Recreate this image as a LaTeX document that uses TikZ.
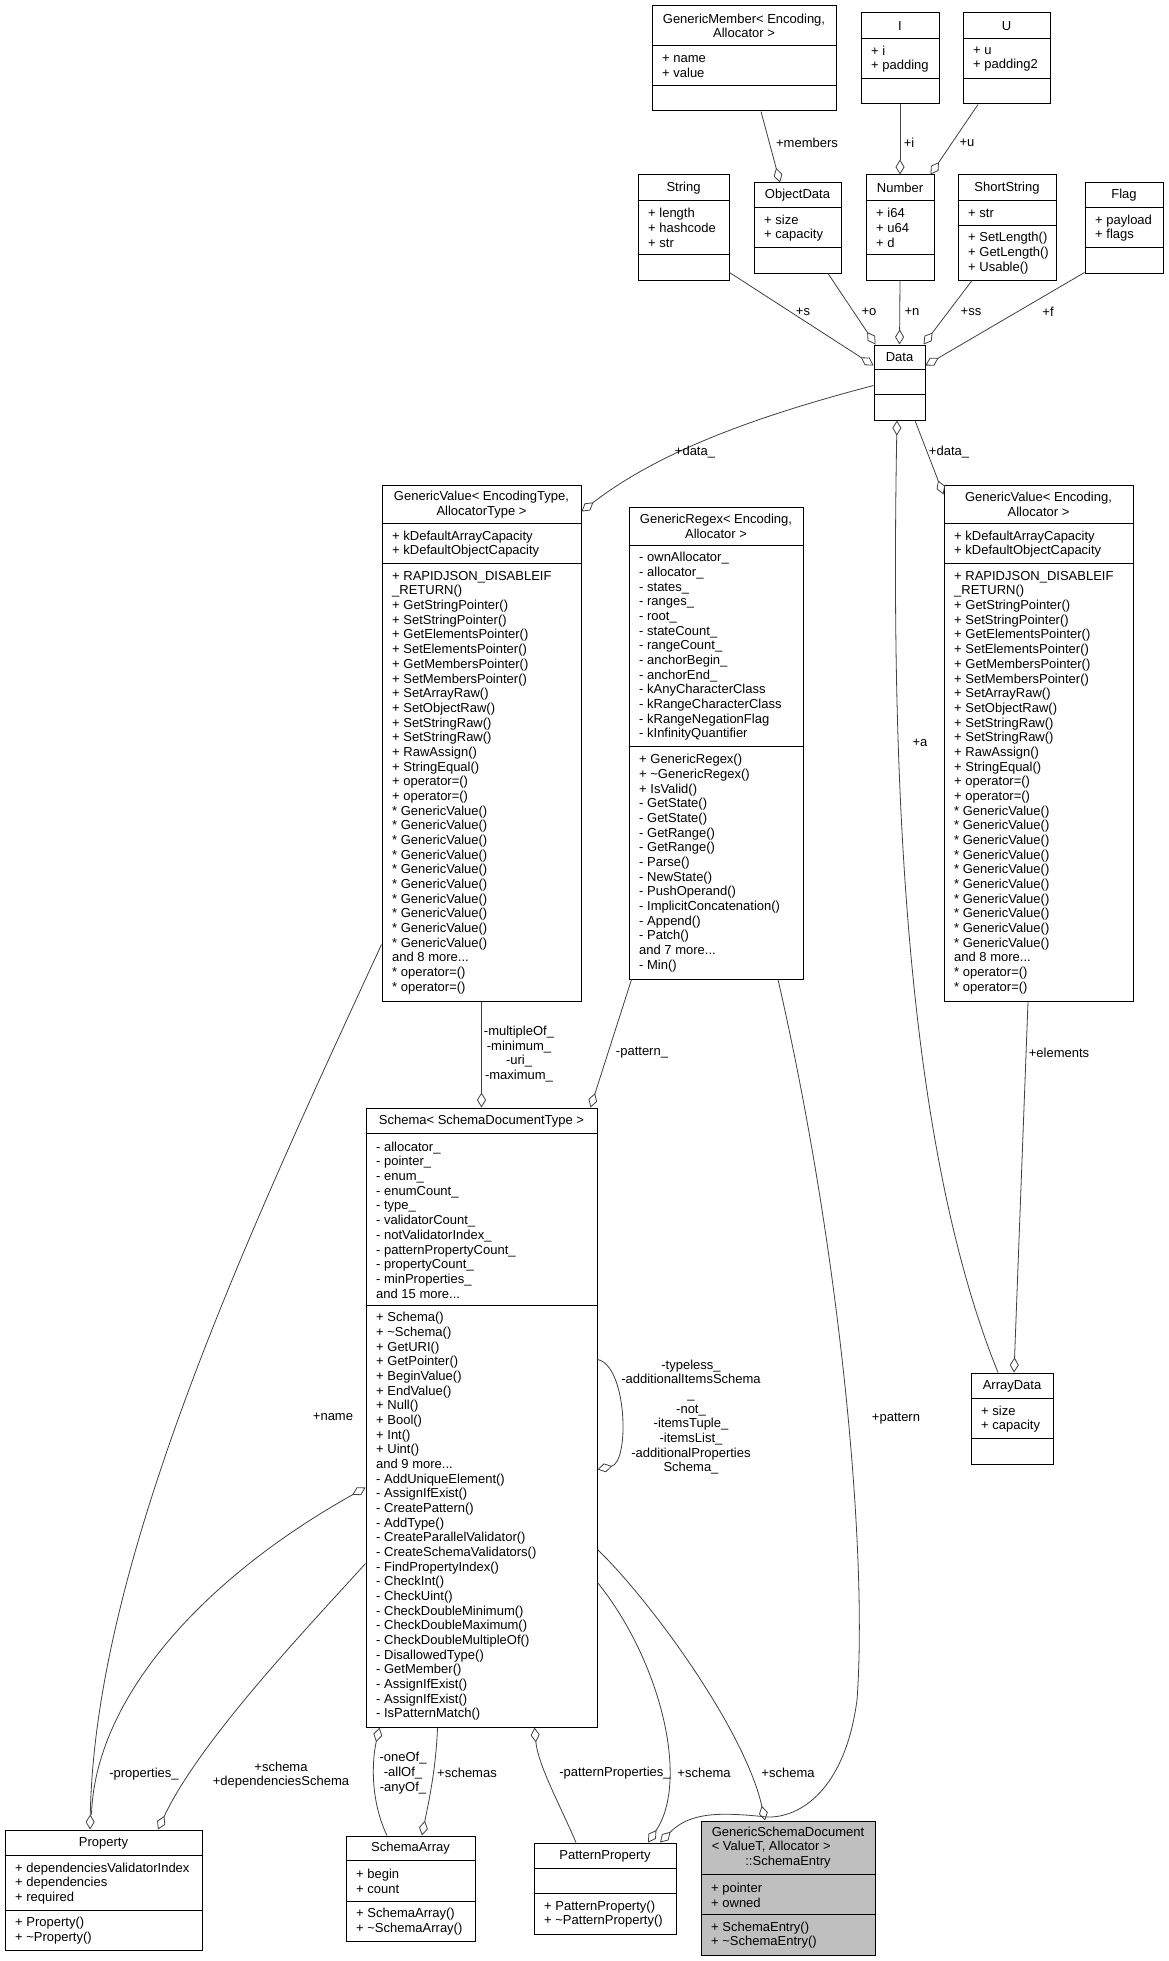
\documentclass[tikz,border=0pt]{standalone}
\usepackage{fontspec}
\setmainfont{Liberation Sans}
\usetikzlibrary{arrows.meta}
\usetikzlibrary{calc}

\definecolor{edgegray}{RGB}{64,64,64}
\definecolor{gsdgray}{RGB}{191,191,191}
\newcommand{\umlfont}{\fontsize{13}{14.67}\selectfont}

\tikzset{
  cls/.style={draw=black, line width=1pt, inner sep=0pt},
  sepline/.style={draw=black, line width=1pt},
  ttl/.style={inner sep=0pt, align=center, font=\umlfont},
  memb/.style={inner sep=0pt, anchor=west, align=left, font=\umlfont},
  lbl/.style={inner sep=0pt, align=center, font=\umlfont},
  agg/.style={draw=edgegray, line width=0.8pt,
    -{Diamond[open, length=15pt, width=9pt, line width=0.8pt]}},
  link/.style={draw=edgegray, line width=0.8pt},
}

% box: [options] name, x1, x2, y1, sep1, sep2, y2
\newcommand{\umlclass}[8][]{%
  \node[cls, #1, minimum width={#4-#3}, minimum height={#8-#5}] (#2) at ({(#3+#4)/2},{(#5+#8)/2}) {};
  \draw[sepline] ($(#2.north west)+(0,#6-#5)$) -- ($(#2.north east)+(0,#6-#5)$);
  \draw[sepline] ($(#2.north west)+(0,#7-#5)$) -- ($(#2.north east)+(0,#7-#5)$);
  \coordinate (#2-t) at ({(#3+#4)/2},{(#5+#6)/2});
  \coordinate (#2-a) at ({#3+10},{(#6+#7)/2});
  \coordinate (#2-m) at ({#3+10},{(#7+#8)/2});
}
% texts: name, title, attributes, methods
\newcommand{\umltext}[4]{%
  \node[ttl] (#1-title) at (#1-t) {#2};
  \node[memb] (#1-attr) at (#1-a) {#3};
  \node[memb] (#1-meth) at (#1-m) {#4};
}

\begin{document}
\begin{tikzpicture}[x=1pt, y=-1pt]
      \fill[white] (0,0) rectangle (1169,1961);
      \useasboundingbox (0,0) rectangle (1169,1961);

      % top row
      \umlclass{gm}{652}{836}{6}{46}{86}{111}
      \umltext{gm}{GenericMember< Encoding,\\ Allocator >}{+ name\\+ value}{}
      \umlclass{ibox}{861}{939}{13}{39}{79}{104}
      \umltext{ibox}{I}{+ i\\+ padding}{}
      \umlclass{ubox}{963}{1050}{13}{39}{79}{104}
      \umltext{ubox}{U}{+ u\\+ padding2}{}

      \umlclass{string}{638}{729}{175}{201}{255}{280}
      \umltext{string}{String}{+ length\\+ hashcode\\+ str}{}
      \umlclass{objdata}{754}{841}{183}{208}{248}{273}
      \umltext{objdata}{ObjectData}{+ size\\+ capacity}{}
      \umlclass{number}{866}{934}{175}{201}{255}{280}
      \umltext{number}{Number}{+ i64\\+ u64\\+ d}{}
      \umlclass{shortstr}{958}{1056}{175}{201}{226}{280}
      \umltext{shortstr}{ShortString}{+ str}{+ SetLength()\\+ GetLength()\\+ Usable()}
      \umlclass{flag}{1085}{1163}{183}{208}{248}{273}
      \umltext{flag}{Flag}{+ payload\\+ flags}{}

      \umlclass{data}{874}{925}{345}{370}{395}{420}
      \umltext{data}{Data}{}{}

      % values and regex
      \umlclass{gv1}{382}{581}{485}{524}{564}{1001}
      \umltext{gv1}{GenericValue< EncodingType,\\ AllocatorType >}{+ kDefaultArrayCapacity\\+ kDefaultObjectCapacity}{+ RAPIDJSON\_DISABLEIF\\\_RETURN()\\+ GetStringPointer()\\+ SetStringPointer()\\+ GetElementsPointer()\\+ SetElementsPointer()\\+ GetMembersPointer()\\+ SetMembersPointer()\\+ SetArrayRaw()\\+ SetObjectRaw()\\+ SetStringRaw()\\+ SetStringRaw()\\+ RawAssign()\\+ StringEqual()\\+ operator=()\\+ operator=()\\* GenericValue()\\* GenericValue()\\* GenericValue()\\* GenericValue()\\* GenericValue()\\* GenericValue()\\* GenericValue()\\* GenericValue()\\* GenericValue()\\* GenericValue()\\and 8 more...\\* operator=()\\* operator=()}

      \umlclass{regex}{629}{803}{507}{546}{747}{979}
      \umltext{regex}{GenericRegex< Encoding,\\ Allocator >}{- ownAllocator\_\\- allocator\_\\- states\_\\- ranges\_\\- root\_\\- stateCount\_\\- rangeCount\_\\- anchorBegin\_\\- anchorEnd\_\\- kAnyCharacterClass\\- kRangeCharacterClass\\- kRangeNegationFlag\\- kInfinityQuantifier}{+ GenericRegex()\\+ \textasciitilde GenericRegex()\\+ IsValid()\\- GetState()\\- GetState()\\- GetRange()\\- GetRange()\\- Parse()\\- NewState()\\- PushOperand()\\- ImplicitConcatenation()\\- Append()\\- Patch()\\and 7 more...\\- Min()}

      \umlclass{gv2}{944}{1133}{485}{524}{564}{1001}
      \umltext{gv2}{GenericValue< Encoding,\\ Allocator >}{+ kDefaultArrayCapacity\\+ kDefaultObjectCapacity}{+ RAPIDJSON\_DISABLEIF\\\_RETURN()\\+ GetStringPointer()\\+ SetStringPointer()\\+ GetElementsPointer()\\+ SetElementsPointer()\\+ GetMembersPointer()\\+ SetMembersPointer()\\+ SetArrayRaw()\\+ SetObjectRaw()\\+ SetStringRaw()\\+ SetStringRaw()\\+ RawAssign()\\+ StringEqual()\\+ operator=()\\+ operator=()\\* GenericValue()\\* GenericValue()\\* GenericValue()\\* GenericValue()\\* GenericValue()\\* GenericValue()\\* GenericValue()\\* GenericValue()\\* GenericValue()\\* GenericValue()\\and 8 more...\\* operator=()\\* operator=()}

      \umlclass{arraydata}{971}{1053}{1373}{1399}{1439}{1464}
      \umltext{arraydata}{ArrayData}{+ size\\+ capacity}{}

      % schema
      \umlclass{schema}{366}{597}{1108}{1134}{1306}{1727}
      \umltext{schema}{Schema< SchemaDocumentType >}{- allocator\_\\- pointer\_\\- enum\_\\- enumCount\_\\- type\_\\- validatorCount\_\\- notValidatorIndex\_\\- patternPropertyCount\_\\- propertyCount\_\\- minProperties\_\\and 15 more...}{+ Schema()\\+ \textasciitilde Schema()\\+ GetURI()\\+ GetPointer()\\+ BeginValue()\\+ EndValue()\\+ Null()\\+ Bool()\\+ Int()\\+ Uint()\\and 9 more...\\- AddUniqueElement()\\- AssignIfExist()\\- CreatePattern()\\- AddType()\\- CreateParallelValidator()\\- CreateSchemaValidators()\\- FindPropertyIndex()\\- CheckInt()\\- CheckUint()\\- CheckDoubleMinimum()\\- CheckDoubleMaximum()\\- CheckDoubleMultipleOf()\\- DisallowedType()\\- GetMember()\\- AssignIfExist()\\- AssignIfExist()\\- IsPatternMatch()}

      % bottom row
      \umlclass{property}{5}{202}{1830}{1856}{1911}{1950}
      \umltext{property}{Property}{+ dependenciesValidatorIndex\\+ dependencies\\+ required}{+ Property()\\+ \textasciitilde Property()}
      \umlclass{schemaarr}{346}{475}{1836}{1861}{1902}{1941}
      \umltext{schemaarr}{SchemaArray}{+ begin\\+ count}{+ SchemaArray()\\+ \textasciitilde SchemaArray()}
      \umlclass{patprop}{534}{676}{1843}{1869}{1894}{1934}
      \umltext{patprop}{PatternProperty}{}{+ PatternProperty()\\+ \textasciitilde PatternProperty()}
      \umlclass[fill=gsdgray]{gsd}{701}{875}{1821}{1875}{1915}{1955}
      \umltext{gsd}{\begin{tabular}{@{}l@{}}GenericSchemaDocument\\< ValueT, Allocator >\\\multicolumn{1}{@{}c@{}}{::SchemaEntry}\end{tabular}}{+ pointer\\+ owned}{+ SchemaEntry()\\+ \textasciitilde SchemaEntry()}

      % connectors round Data
      \draw[agg] ($(gm.south)+(17,0)$) -- ($(objdata.north)+(-17.5,0)$);
      \draw[agg] (ibox.south) -- (number.north);
      \draw[agg] ($(ubox.south)+(-28.5,0)$) -- ($(number.north east)+(-4,0)$);
      \draw[agg] ($(string.south east)+(0,-8)$) -- ($(data.north west)+(0,21)$);
      \draw[agg] ($(objdata.south)+(30.5,0)$) -- ($(data.north west)+(2,0)$);
      \draw[agg] (number.south) -- (data.north);
      \draw[agg] ($(shortstr.south)+(-35,0)$) -- ($(data.north east)+(-2,0)$);
      \draw[agg] ($(flag.south west)+(0,-1)$) -- ($(data.north east)+(0,21)$);
      \draw[agg] ($(data.north west)+(0,41)$) .. controls (761,415) and (661,450) .. ($(gv1.north east)+(0,27)$);
      \draw[agg] ($(data.south)+(15.5,0)$) -- ($(gv2.north west)+(0,10)$);
      \draw[agg] ($(arraydata.north)+(-14,0)$) .. controls (908,1150) and (890,800) .. ($(data.south)+(-2.5,0)$);
      \draw[agg] ($(gv2.south)+(-10.5,0)$) -- ($(arraydata.north)+(2,0)$);

      % connectors round Schema
      \draw[agg] (gv1.south) -- (schema.north);
      \draw[agg] ($(regex.south west)+(3,0)$) -- ($(schema.north east)+(-7,0)$);
      \draw[agg] ($(regex.south)+(62,0)$) .. controls (840,1250) and (868,1550) .. (857,1700)
        .. controls (845,1790) and (800,1818) .. (767,1817)
        .. controls (720,1812) and (690,1812) .. ($(patprop.north)+(55,0)$);
      \draw[agg] ($(schema.north east)+(0,252)$) .. controls (627,1365) and (630,1462) .. ($(schema.north east)+(0,362)$);
      \draw[agg] ($(schemaarr.north)+(-23.5,0)$) .. controls (370,1800) and (372,1760) .. ($(schema.south west)+(14,0)$);
      \draw[agg] ($(schema.south west)+(72,0)$) .. controls (436,1770) and (428,1805) .. ($(schemaarr.north)+(11.5,0)$);
      \draw[agg] ($(patprop.north)+(-29,0)$) .. controls (560,1805) and (538,1765) .. ($(schema.south west)+(169,0)$);
      \draw[agg] ($(schema.north east)+(0,475)$) .. controls (660,1660) and (690,1780) .. ($(patprop.north)+(43,0)$);
      \draw[agg] ($(schema.north east)+(0,442)$) .. controls (650,1600) and (745,1730) .. ($(gsd.north)+(-23,0)$);
      \draw[agg] ($(property.north)+(-12,-15)$) .. controls (95,1700) and (200,1580) .. ($(schema.north west)+(0,380)$);
      \draw[agg] ($(gv1.north west)+(0,460)$) .. controls (250,1230) and (95,1560) .. ($(property.north)+(-13.5,0)$);
      \draw[agg] ($(schema.north west)+(0,456)$) .. controls (310,1625) and (200,1740) .. ($(property.north)+(54.5,0)$);

      % connector labels
      \node[lbl] (l-members) at (807,143) {+members};
      \node[lbl] (l-i) at (909,143) {+i};
      \node[lbl] (l-u) at (967,143) {+u};
      \node[lbl] (l-s) at (803,312) {+s};
      \node[lbl] (l-o) at (869,312) {+o};
      \node[lbl] (l-n) at (912,312) {+n};
      \node[lbl] (l-ss) at (971,312) {+ss};
      \node[lbl] (l-f) at (1048,312) {+f};
      \node[lbl] (l-data1) at (695,452) {+data\_};
      \node[lbl] (l-data2) at (949,452) {+data\_};
      \node[lbl] (l-a) at (920,743) {+a};
      \node[lbl] (l-elements) at (1059,1053) {+elements};
      \node[lbl] (l-numbers) at (519,1054) {-multipleOf\_\\-minimum\_\\-uri\_\\-maximum\_};
      \node[lbl] (l-pattern1) at (642,1053) {-pattern\_};
      \node[lbl] (l-pattern2) at (896,1419) {+pattern};
      \node[lbl] (l-self) at (691,1417) {-typeless\_\\-additionalItemsSchema\\\_\\-not\_\\-itemsTuple\_\\-itemsList\_\\-additionalProperties\\Schema\_};
      \node[lbl] (l-name) at (333,1417) {+name};
      \node[lbl] (l-props) at (144,1774) {-properties\_};
      \node[lbl] (l-depschema) at (281,1775) {+schema\\+dependenciesSchema};
      \node[lbl] (l-oneof) at (403,1773) {-oneOf\_\\-allOf\_\\-anyOf\_};
      \node[lbl] (l-schemas) at (467,1773) {+schemas};
      \node[lbl] (l-patprops) at (615,1773) {-patternProperties\_};
      \node[lbl] (l-schema1) at (704,1773) {+schema};
      \node[lbl] (l-schema2) at (788,1773) {+schema};
    \end{tikzpicture}
\end{document}
